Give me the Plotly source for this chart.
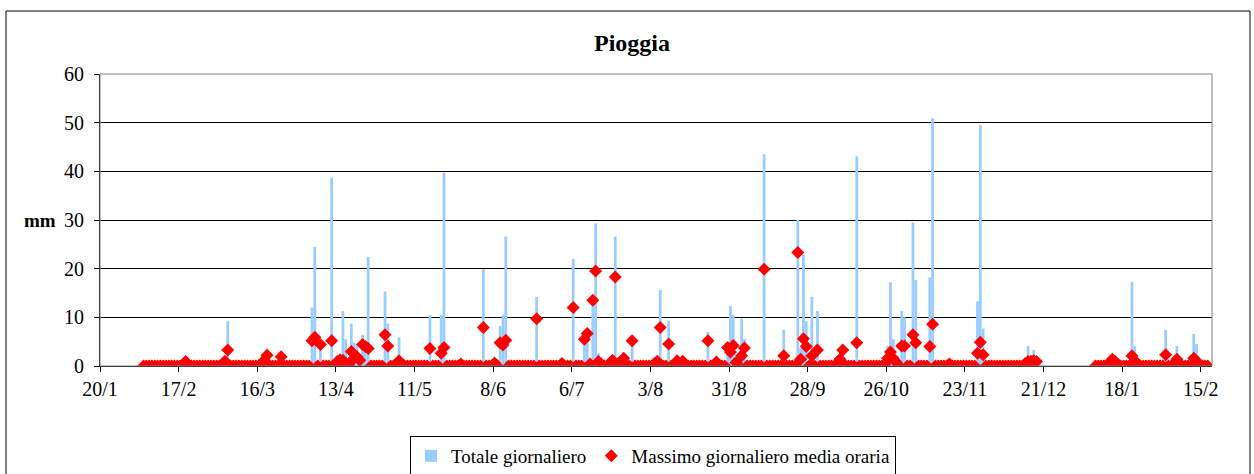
import pandas as pd
import plotly.graph_objects as go

# ---- daily data (mm) : "Totale giornaliero" and "Massimo giornaliero media oraria" ----
# Feb 2008 (from 4/2)
tot_2008_02 = [0,0,0,0,0,0,0,0,0,0,0,0,0,0,0.3,1.2,0.3,0,0,0,0,0,0,0,0,0]
max_2008_02 = [0,0,0,0,0,0,0,0,0,0,0,0,0,0,0.2,0.9,0.2,0,0,0,0,0,0,0,0,0]
# Mar 2008
tot_2008_03 = [0,0,0,1.5,9.2, 0,0,0,0,0, 0,0,0,0,0, 0,0,1.5,3.6,0, 0,0,0,2.0,0, 0,0,0,0,0, 0]
max_2008_03 = [0,0,0,1.0,3.3, 0,0,0,0,0, 0,0,0,0,0, 0,0,1.2,2.2,0, 0,0,0,1.9,0, 0,0,0,0,0, 0]
# Apr 2008
tot_2008_04 = [0,0,0,12.0,24.5, 0,4.5,0,0,0, 38.7,0,1.0,1.5,11.3, 5.5,0.3,8.7,4.8,4.6, 1.5,6.4,4.4,22.4,0, 0,0,0,0,15.3]
max_2008_04 = [0,0,0,5.2,5.9, 0,4.4,0,0,0, 5.2,0,0.9,1.3,1.2, 0.5,0.2,3.0,1.6,1.9, 1.2,4.4,4.0,3.6,0, 0,0,0,0,6.4]
# May 2008
tot_2008_05 = [8.7,0,0,0,5.9, 0,0,0,0,0, 0,0,0,0,0, 10.5,0,0,0,10.5, 39.7,0,0,0,0, 0,0.5,0,0,0, 0]
max_2008_05 = [4.1,0,0,0,1.1, 0,0,0,0,0, 0,0,0,0,0, 3.6,0,0,0,2.6, 3.8,0,0,0,0, 0,0.4,0,0,0, 0]
# Jun 2008
tot_2008_06 = [0,0,0,19.9,0, 0,0,0.8,0,8.2, 10.5,26.6,0,0,0, 0,0,0,0,0, 0,0,14.2,0,0, 0,0,0,0,0]
max_2008_06 = [0,0,0,7.9,0, 0,0,0.6,0,4.8, 4.3,5.3,0,0,0, 0,0,0,0,0, 0,0,9.7,0,0, 0,0,0,0,0]
# Jul 2008
tot_2008_07 = [0,0.6,0,0,0, 22.0,0,0,0,6.2, 6.9,0.5,13.6,29.3,2.6, 0.5,0,0,0,1.4, 26.6,0.6,0,2.0,0, 0,5.3,0,0,0, 0]
max_2008_07 = [0,0.5,0,0,0, 12.0,0,0,0,5.5, 6.7,0.4,13.5,19.5,0.9, 0.4,0,0,0,1.2, 18.3,0.5,0,1.6,0, 0,5.2,0,0,0, 0]
# Aug 2008
tot_2008_08 = [0,0,0,0.5,2.0, 15.6,0,0,9.2,0, 0,1.4,0,1.2,0, 0,0,0,0,0, 0,0,7.0,0,0, 1.0,0,0,0,4.0, 12.3]
max_2008_08 = [0,0,0,0.5,1.0, 7.9,0,0,4.5,0, 0,1.1,0,1.0,0, 0,0,0,0,0, 0,0,5.2,0,0, 0.8,0,0,0,3.8, 2.9]
# Sep 2008
tot_2008_09 = [10.5,0.8,0,9.7,5.5, 0,0,0,0,0, 0,43.5,0,0,0, 0,0,0,7.4,0, 0,0,0,30.0,3.7, 22.8,9.2,0,14.2,0]
max_2008_09 = [4.2,0.7,0,2.1,3.7, 0,0,0,0,0, 0,19.9,0,0,0, 0,0,0,2.1,0, 0,0,0,23.3,1.4, 5.6,4.0,0,2.1,0]
# Oct 2008
tot_2008_10 = [11.3,0,0,0,0, 0,0,0,1.6,3.5, 0,0,0,0,43.1, 0,0,0,0,0, 0,0,0,0,0.5, 4.1,17.2,5.5,0.9,0, 11.3]
max_2008_10 = [3.3,0,0,0,0, 0,0,0,1.4,3.3, 0,0,0,0,4.8, 0,0,0,0,0, 0,0,0,0,0.4, 1.6,2.9,1.6,0.8,0, 4.1]
# Nov 2008
tot_2008_11 = [10.0,0,0,29.5,17.7, 0,0,0,0,18.2, 50.9,0,0,0,0, 0,0.5,0,0,0, 0,0,0,0,0, 0,13.3,49.5,7.7,0]
max_2008_11 = [4.1,0,0,6.4,4.8, 0,0,0,0,4.0, 8.6,0,0,0,0, 0,0.4,0,0,0, 0,0,0,0,0, 0,2.6,4.9,2.3,0]
# Dec 2008 (until 18/12)
tot_2008_12 = [0,0,0,0,0, 0,0,0,0,0, 0,0,0,0.5,4.1, 1.8,3.3,1.0]
max_2008_12 = [0,0,0,0,0, 0,0,0,0,0, 0,0,0,0.5,0.9, 1.0,1.1,0.9]
# Jan 2009 (from 8/1)
tot_2009_01 = [0,0,0,0,0, 0.8,2.4,1.9,0.3, 0,0,0,0, 17.3,4.1,0.5, 0,0,0,0,0,0,0,0]
max_2009_01 = [0,0,0,0,0, 0.7,1.4,0.9,0.3, 0,0,0,0, 2.1,1.1,0.4, 0,0,0,0,0,0,0,0]
# Feb 2009 (until 17/2)
tot_2009_02 = [0,7.4,0,0,0.5, 4.1,0.3,0,0,0, 0,6.6,4.5,0.5,0, 0,0]
max_2009_02 = [0,2.3,0,0,0.4, 1.4,0.3,0,0,0, 0,1.6,1.0,0.4,0, 0,0]

blocks = [
    ("2008-02-04", tot_2008_02, max_2008_02),
    ("2008-03-01", tot_2008_03, max_2008_03),
    ("2008-04-01", tot_2008_04, max_2008_04),
    ("2008-05-01", tot_2008_05, max_2008_05),
    ("2008-06-01", tot_2008_06, max_2008_06),
    ("2008-07-01", tot_2008_07, max_2008_07),
    ("2008-08-01", tot_2008_08, max_2008_08),
    ("2008-09-01", tot_2008_09, max_2008_09),
    ("2008-10-01", tot_2008_10, max_2008_10),
    ("2008-11-01", tot_2008_11, max_2008_11),
    ("2008-12-01", tot_2008_12, max_2008_12),
    ("2009-01-08", tot_2009_01, max_2009_01),
    ("2009-02-01", tot_2009_02, max_2009_02),
]

dates, tot, mx = [], [], []
for start, t, m in blocks:
    d = pd.date_range(start, periods=len(t), freq="D")
    dates.extend(d)
    tot.extend(t)
    mx.extend(m)

DAY = 86400000

fig = go.Figure()
fig.add_trace(go.Bar(
    x=dates, y=tot, name="Totale giornaliero",
    marker=dict(color="#99CCFF", line=dict(width=0)),
    xperiod=DAY, xperiodalignment="middle",
))
fig.add_trace(go.Scatter(
    x=dates, y=mx, name="Massimo giornaliero media oraria",
    mode="markers",
    marker=dict(symbol="diamond", size=10, color="#FF0000", line=dict(width=0)),
    xperiod=DAY, xperiodalignment="middle",
))

W, H = 1254, 474
L, R, T, B = 100, 1212, 74, 366
pw, ph = R - L, B - T

def px(x):
    return (x - L) / pw

def py(y):
    return (B - y) / ph

fig.update_layout(
    width=W, height=H,
    margin=dict(l=L, r=W - R, t=T, b=H - B),
    paper_bgcolor="white", plot_bgcolor="white",
    font=dict(family="Liberation Serif", size=20, color="black"),
    title=dict(text="<b>Pioggia</b>", x=632 / W, xanchor="center",
               y=1 - 43 / H, yanchor="middle",
               font=dict(family="Liberation Serif", size=24, color="black")),
    bargap=0.02,
    showlegend=True,
    legend=dict(orientation="h", x=px(653), xanchor="center",
                yref="container", y=1 - 436 / H, yanchor="top",
                bordercolor="black", borderwidth=1, bgcolor="white",
                font=dict(family="Liberation Serif", size=19, color="black"),
                itemwidth=30, tracegroupgap=0),
    xaxis=dict(type="date", range=["2008-01-20", "2009-02-19"],
               tick0="2008-01-20", dtick=28 * DAY, tickformat="%-d/%-m",
               ticks="outside", ticklen=5, tickcolor="black",
               showline=True, linecolor="black", linewidth=1,
               showgrid=False, zeroline=False,
               tickfont=dict(family="Liberation Serif", size=20)),
    yaxis=dict(range=[0, 60], dtick=10, ticks="outside", ticklen=5,
               tickcolor="black", showline=True, linecolor="black", linewidth=1,
               showgrid=True, gridcolor="black", gridwidth=1, zeroline=False,
               ticklabelstandoff=6,
               tickfont=dict(family="Liberation Serif", size=20)),
    annotations=[dict(text="<b>mm</b>", xref="paper", yref="paper",
                      x=px(40), y=py(220), xanchor="center", yanchor="middle",
                      showarrow=False,
                      font=dict(family="Liberation Serif", size=19, color="black"))],
    shapes=[
        dict(type="rect", xref="paper", yref="paper",
             x0=0, x1=1, y0=0, y1=1, line=dict(color="#808080", width=1)),
        dict(type="rect", xref="paper", yref="paper",
             x0=px(6), x1=px(1250), y0=py(11), y1=py(490),
             line=dict(color="black", width=1)),
    ],
)

fig.write_html(
    "out.html",
    config={"displayModeBar": False},
    post_script="document.body.style.margin='0';document.body.style.padding='0';"
                "document.body.style.overflow='hidden';",
)
